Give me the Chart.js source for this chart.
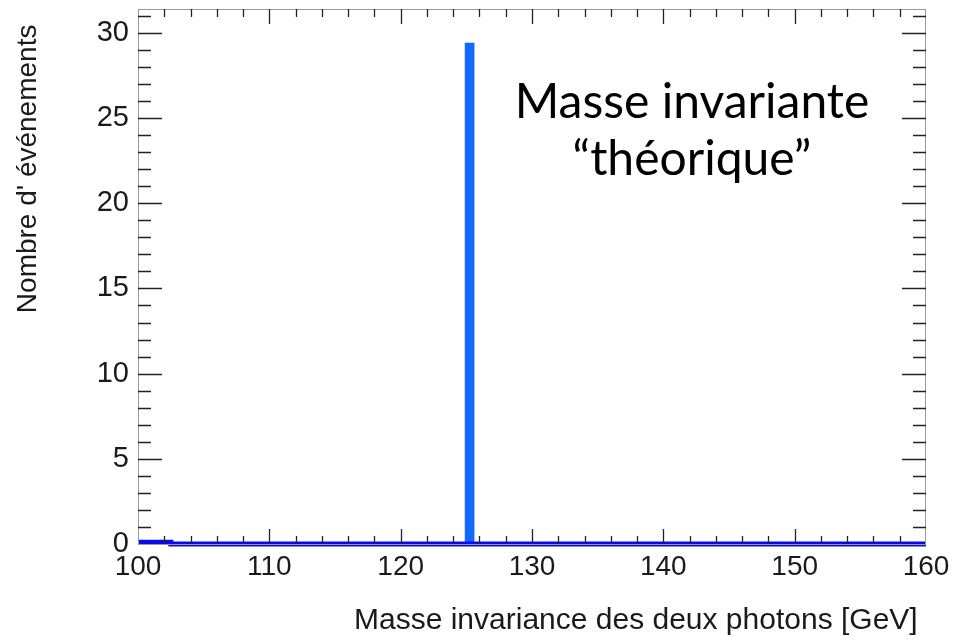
<!DOCTYPE html>
<html><head><meta charset="utf-8">
<script src="https://cdn.jsdelivr.net/npm/chart.js@4/dist/chart.umd.min.js"></script>
<style>html,body{margin:0;padding:0;background:#fff}#wrap{width:955px;height:640px}</style>
</head><body><div id="wrap"><canvas id="c" width="955" height="640"></canvas></div>
<script>
// ---- data ----
const xTickValues = [100, 110, 120, 130, 140, 150, 160];
const yTickValues = [0, 5, 10, 15, 20, 25, 30];
const xMinorStep = 2;
const yMinorStep = 1;
const signalMass = [125.25];          // GeV (bin centre)
const signalCounts = [29.4];          // events
const backgroundMass = [100, 102.5, 160];
const backgroundCounts = [0.1, 0, 0];
const annotationLines = ['Masse invariante', '\u201Cthéorique\u201D'];
const xTitle = 'Masse invariance des deux photons [GeV] ';
const yTitle = "Nombre d' événements  ";

const X_MIN = 100, X_MAX = 160, Y_MIN = 0, Y_MAX = 31.4;

const sansFont = "'Liberation Sans', Arial, sans-serif";

const frameTicks = {
  id: 'frameTicks',
  afterDatasetsDraw(chart) {
    const {ctx, chartArea: a, scales: {x, y}} = chart;
    ctx.save();
    ctx.strokeStyle = '#999';
    ctx.lineWidth = 1;
    ctx.strokeRect(a.left + 0.5, a.top + 0.5, a.right - a.left - 1, a.bottom - a.top);
    ctx.strokeStyle = '#222';
    ctx.lineWidth = 1.3;
    const xMaj = 15, xMin = 8, yMaj = 24, yMin = 13;
    for (let v = X_MIN; v <= X_MAX + 1e-9; v += xMinorStep) {
      const px = Math.round(x.getPixelForValue(v)) + 0.5;
      const len = xTickValues.includes(v) ? xMaj : xMin;
      if (v === X_MIN || v === X_MAX) continue;
      ctx.beginPath();
      ctx.moveTo(px, a.bottom); ctx.lineTo(px, a.bottom - len);
      ctx.moveTo(px, a.top); ctx.lineTo(px, a.top + len);
      ctx.stroke();
    }
    for (let v = Y_MIN; v <= Y_MAX + 1e-9; v += yMinorStep) {
      const py = Math.round(y.getPixelForValue(v)) + 0.5;
      if (v === Y_MIN) continue;
      const len = yTickValues.includes(v) ? yMaj : yMin;
      ctx.beginPath();
      ctx.moveTo(a.left, py); ctx.lineTo(a.left + len, py);
      ctx.moveTo(a.right, py); ctx.lineTo(a.right - len, py);
      ctx.stroke();
    }
    ctx.restore();
  }
};

const annotation = {
  id: 'annotation',
  afterDraw(chart) {
    const {ctx} = chart;
    ctx.save();
    ctx.fillStyle = '#000';
    ctx.font = "48px Lato, 'Open Sans', sans-serif";
    ctx.textAlign = 'center';
    ctx.textBaseline = 'alphabetic';
    ctx.fillText(annotationLines[0], 692, 118);
    ctx.fillText(annotationLines[1], 692, 175);
    ctx.restore();
  }
};

function zeroPad(scale) {
  scale.paddingTop = 0; scale.paddingBottom = 0;
  scale.paddingLeft = 0; scale.paddingRight = 0;
}

new Chart(document.getElementById('c'), {
  data: {
    datasets: [
      {
        type: 'bar',
        label: 'signal',
        data: signalMass.map((m, i) => ({x: m, y: signalCounts[i]})),
        backgroundColor: 'rgb(18,104,255)',
        borderWidth: 0,
        barThickness: 9,
        order: 2
      },
      {
        type: 'line',
        label: 'fond',
        data: backgroundMass.map((m, i) => ({x: m, y: backgroundCounts[i]})),
        borderColor: 'rgb(8,8,235)',
        borderWidth: 5,
        stepped: true,
        pointRadius: 0,
        fill: false,
        clip: false,
        order: 1
      }
    ]
  },
  options: {
    responsive: false,
    animation: false,
    devicePixelRatio: 1,
    layout: {padding: {top: 9, right: 29, bottom: 0, left: 0}},
    plugins: {legend: {display: false}, tooltip: {enabled: false}},
    scales: {
      x: {
        type: 'linear', min: X_MIN, max: X_MAX, offset: false,
        grid: {display: false, drawTicks: false, offset: false},
        border: {display: false},
        afterBuildTicks: s => { s.ticks = xTickValues.map(v => ({value: v})); },
        afterFit: s => { s.height = 96; zeroPad(s); },
        ticks: {color: '#1a1a1a', padding: 6, font: {family: sansFont, size: 28}, maxRotation: 0, autoSkip: false},
        title: {display: true, text: xTitle, align: 'end', color: '#1a1a1a',
                font: {family: sansFont, size: 30}, padding: {top: 0, bottom: 1}}
      },
      y: {
        type: 'linear', min: Y_MIN, max: Y_MAX,
        grid: {display: false, drawTicks: false},
        border: {display: false},
        afterBuildTicks: s => { s.ticks = yTickValues.map(v => ({value: v})); },
        afterFit: s => { s.width = 138; zeroPad(s); },
        ticks: {color: '#1a1a1a', padding: 9, font: {family: sansFont, size: 29}, autoSkip: false},
        title: {display: true, text: yTitle, align: 'end', color: '#1a1a1a',
                font: {family: sansFont, size: 28}, padding: {top: 11, bottom: 0}}
      }
    }
  },
  plugins: [frameTicks, annotation]
});
</script>
</body></html>
